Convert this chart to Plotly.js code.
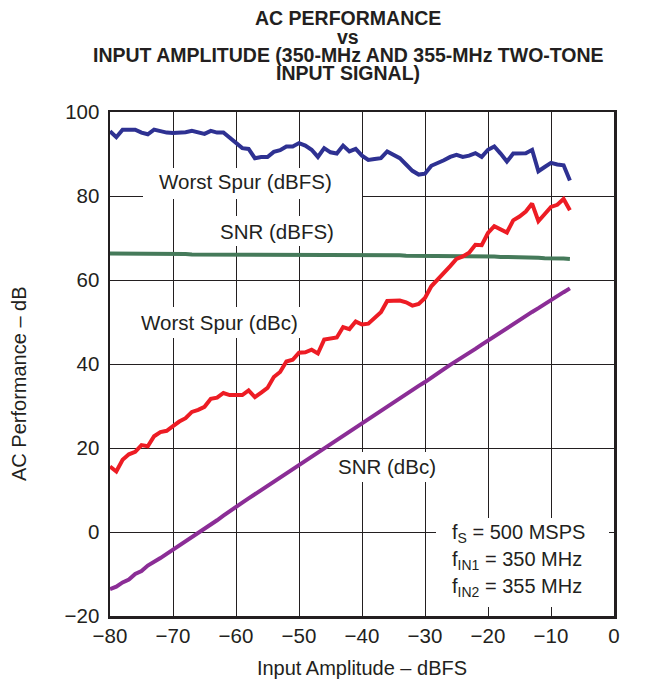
<!DOCTYPE html>
<html>
<head>
<meta charset="utf-8">
<script src="https://cdn.plot.ly/plotly-3.0.1.min.js"></script>
<style>html,body{margin:0;padding:0;background:#fff;}</style>
</head>
<body>
<div id="chart" style="width:646px;height:679px;"></div>
<script>
// Input amplitude (dBFS)
const inputAmp = [-80,-79,-78,-77,-76,-75,-74,-73,-72,-71,-70,-69,-68,-67,-66,-65,-64,-63,-62,-61,-60,-59,-58,-57,-56,-55,-54,-53,-52,-51,-50,-49,-48,-47,-46,-45,-44,-43,-42,-41,-40,-39,-38,-37,-36,-35,-34,-33,-32,-31,-30,-29,-28,-27,-26,-25,-24,-23,-22,-21,-20,-19,-18,-17,-16,-15,-14,-13,-12,-11,-10,-9,-8,-7];

const worstSpurDBFS = [95.4,94.0,95.8,95.9,95.8,95.1,94.7,95.8,95.4,95.1,
  95.0,95.0,95.2,95.5,95.1,94.8,95.5,95.1,95.1,93.8,
  92.5,91.4,91.2,89.0,89.3,89.3,90.5,90.9,91.8,91.8,
  92.6,92.0,91.0,89.3,91.4,90.4,90.1,92.0,90.6,91.2,
  89.6,88.6,88.8,89.0,90.6,89.8,89.0,87.5,86.0,85.1,
  85.3,87.2,87.8,88.5,89.3,89.8,89.3,89.6,90.2,89.3,
  91.0,91.8,90.1,88.2,90.1,90.1,90.2,91.0,85.9,86.9,
  87.9,87.5,87.3,83.7];

const snrDBFS = [66.3,66.3,66.4,66.4,66.4,66.3,66.3,66.3,66.3,66.3,
  66.3,66.2,66.2,66.1,66.1,66.1,66.1,66.0,66.0,66.0,
  66.0,66.0,66.0,66.0,66.0,66.0,66.0,66.0,66.0,66.0,
  66.0,66.0,66.0,66.0,66.0,66.0,66.0,66.0,65.9,65.9,
  65.9,65.9,65.9,65.9,65.9,65.9,65.9,65.8,65.8,65.8,
  65.7,65.8,65.8,65.8,65.8,65.7,65.7,65.7,65.6,65.6,
  65.6,65.6,65.5,65.5,65.5,65.5,65.4,65.4,65.3,65.2,
  65.2,65.3,65.1,65.0];

const worstSpurDBc = [15.6,14.4,17.2,18.5,19.1,20.7,20.4,22.8,23.8,24.1,
  25.2,26.3,27.1,28.6,29.1,29.8,31.7,32.0,33.1,32.6,
  32.6,32.6,33.7,32.1,33.2,34.3,36.9,38.1,40.6,41.0,
  42.7,42.8,43.4,42.5,45.8,46.0,46.3,48.8,48.3,50.1,
  49.4,49.6,50.8,52.3,55.0,55.1,55.1,54.7,53.9,54.3,
  55.7,58.5,60.0,61.7,63.3,65.0,65.6,66.5,68.4,68.3,
  71.2,72.8,72.0,71.3,74.2,75.1,76.3,78.2,74.0,75.6,
  77.4,77.9,79.3,76.6];

const snrDBc = [-13.6,-13.0,-12.0,-11.3,-10.0,-9.3,-8.0,-7.2,-6.2,-5.2,
  -4.2,-3.2,-2.4,-1.2,-0.3,0.8,1.8,2.8,3.9,5.0,
  6.0,7.0,8.0,9.0,10.0,11.0,12.0,13.0,14.0,14.9,
  15.9,16.9,17.9,18.9,20.0,21.0,22.0,22.9,23.9,24.9,
  25.9,26.8,27.9,28.8,29.9,30.9,31.8,32.8,33.8,34.8,
  35.7,36.8,37.7,38.8,39.8,40.7,41.7,42.7,43.6,44.6,
  45.6,46.5,47.5,48.5,49.5,50.5,51.4,52.4,53.3,54.3,
  55.2,56.2,57.1,58.0];

const seriesNames = ['Worst Spur (dBFS)','SNR (dBFS)','Worst Spur (dBc)','SNR (dBc)'];
const titleLines = ['AC PERFORMANCE','vs','INPUT AMPLITUDE (350-MHz AND 355-MHz TWO-TONE','INPUT SIGNAL)'];
const insetLines = ['f<sub>S</sub> = 500 MSPS','f<sub>IN1</sub> = 350 MHz','f<sub>IN2</sub> = 355 MHz'];
const xTitle = 'Input Amplitude \u2013 dBFS';
const yTitle = 'AC Performance \u2013 dB';
const xTicks = [-80,-70,-60,-50,-40,-30,-20,-10,0];
const yTicks = [-20,0,20,40,60,80,100];

const INK = '#231f20';
const FONT = 'Liberation Sans, Arial, Helvetica, sans-serif';

const traces = [
  {x: inputAmp, y: worstSpurDBFS, name: seriesNames[0], color: '#2e3192'},
  {x: inputAmp, y: snrDBFS, name: seriesNames[1], color: '#457a5a'},
  {x: inputAmp, y: worstSpurDBc, name: seriesNames[2], color: '#ed1c24'},
  {x: inputAmp, y: snrDBc, name: seriesNames[3], color: '#8b2d96'}
].map(s => ({
  type: 'scatter', mode: 'lines', x: s.x, y: s.y, name: s.name,
  line: {color: s.color, width: 4, shape: 'linear'}, showlegend: false, hoverinfo: 'x+y+name'
}));

// page px -> paper helpers (plot area: x 110..614, y 112..616)
const PL = 110, PR = 614, PT = 112, PB = 616;
const px = v => (v - PL) / (PR - PL);
const py = v => (PB - v) / (PB - PT);

// white knock-out boxes behind the in-plot labels (they interrupt the grid, as in the original)
function box(x0, y0, x1, y1) {
  return {type: 'rect', xref: 'paper', yref: 'paper', x0: px(x0), x1: px(x1), y0: py(y1), y1: py(y0),
          fillcolor: '#ffffff', line: {width: 0}, layer: 'above'};
}

const shapes = [
  box(143, 168, 362, 199),
  box(210, 216, 344, 246),
  box(136, 307, 304, 338),
  box(332, 452, 440, 482),
  box(436, 518, 609, 607)
];

function label(text, cx, cy, size, anchor, angle) {
  return {text: text, xref: 'paper', yref: 'paper', x: px(cx), y: py(cy),
          xanchor: anchor || 'center', yanchor: 'middle', showarrow: false,
          textangle: angle || 0,
          font: {family: FONT, size: size, color: INK}};
}

const annotations = [
  label(seriesNames[0], 245, 182, 20.5),
  label(seriesNames[1], 277, 231, 20.5),
  label(seriesNames[2], 219, 322, 20.5),
  label(seriesNames[3], 387, 466, 20.5),
  label(insetLines[0], 450, 533, 20, 'left'),
  label(insetLines[1], 450, 560, 20, 'left'),
  label(insetLines[2], 450, 587, 20, 'left'),
  label(yTitle, 19, 384, 20, 'center', -90),
  label('<b>' + titleLines[0] + '</b>', 348, 18, 19.5),
  label('<b>' + titleLines[1] + '</b>', 348, 37, 19.5),
  label('<b>' + titleLines[2] + '</b>', 348, 55, 19.5),
  label('<b>' + titleLines[3] + '</b>', 348, 73, 19.5)
];

const axisCommon = {
  showgrid: true, gridcolor: INK, gridwidth: 1,
  showline: true, linecolor: INK, linewidth: 2.5, mirror: true,
  zeroline: false, ticks: '', fixedrange: true,
  tickfont: {family: FONT, size: 20.5, color: INK}
};

const layout = {
  width: 646, height: 679,
  margin: {l: PL, r: 646 - PR, t: PT, b: 679 - PB, pad: 0},
  paper_bgcolor: '#ffffff', plot_bgcolor: '#ffffff',
  showlegend: false,
  xaxis: Object.assign({}, axisCommon, {
    range: [-80, 0], tickmode: 'array', tickvals: xTicks,
    ticktext: xTicks.map(v => v < 0 ? '\u2212' + Math.abs(v) : String(v)),
    title: {text: xTitle, font: {family: FONT, size: 20, color: INK}, standoff: 16}
  }),
  yaxis: Object.assign({}, axisCommon, {
    range: [-20, 100], tickmode: 'array', tickvals: yTicks,
    ticktext: yTicks.map(v => v < 0 ? '\u2212' + Math.abs(v) : String(v)),
    ticklabelstandoff: 4
  }),
  shapes: shapes,
  annotations: annotations
};

Plotly.newPlot('chart', traces, layout, {staticPlot: true, displayModeBar: false});
</script>
</body>
</html>
